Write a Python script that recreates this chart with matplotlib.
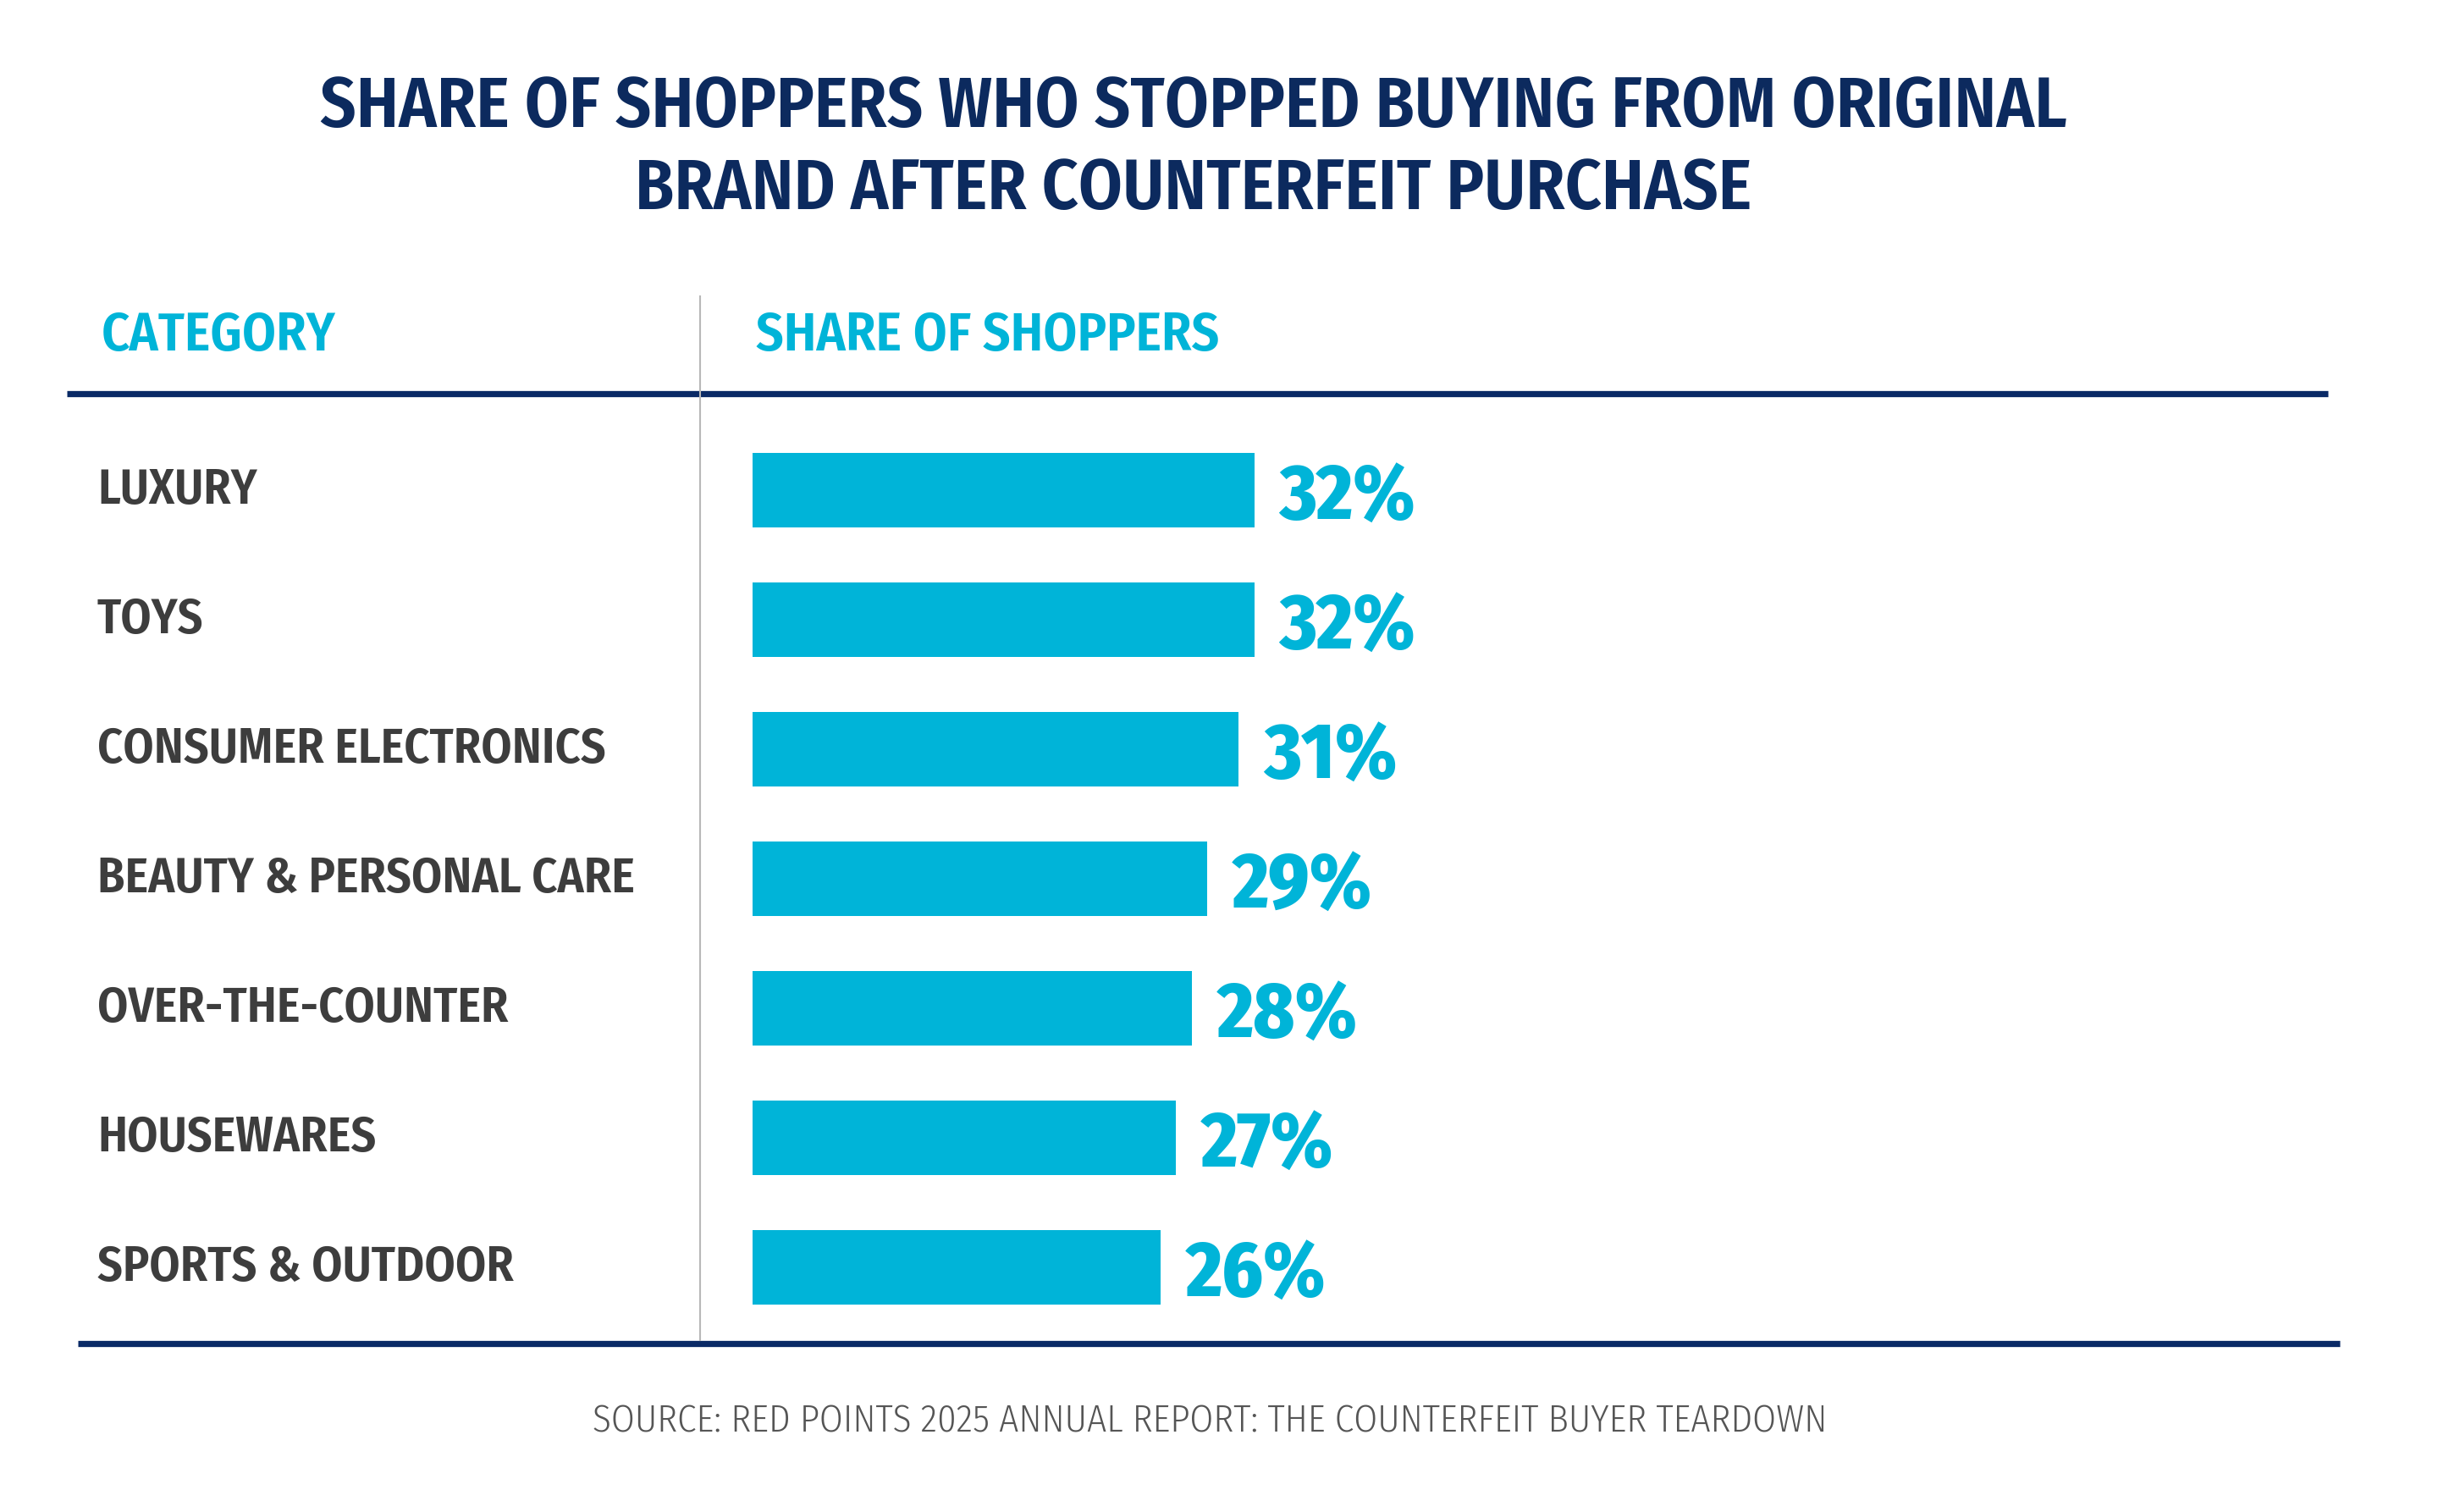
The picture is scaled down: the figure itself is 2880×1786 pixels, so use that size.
import matplotlib
matplotlib.use("Agg")
import matplotlib.pyplot as plt
from matplotlib.lines import Line2D
from matplotlib.transforms import blended_transform_factory

# dados
categories = ["LUXURY", "TOYS", "CONSUMER ELECTRONICS", "BEAUTY & PERSONAL CARE",
              "OVER-THE-COUNTER", "HOUSEWARES", "SPORTS & OUTDOOR"]
shares = [32, 32, 31, 29, 28, 27, 26]
title_lines = ["SHARE OF SHOPPERS WHO STOPPED BUYING FROM ORIGINAL",
               "BRAND AFTER COUNTERFEIT PURCHASE"]
header_left = "CATEGORY"
header_right = "SHARE OF SHOPPERS"
source = "SOURCE: RED POINTS 2025 ANNUAL REPORT: THE COUNTERFEIT BUYER TEARDOWN"

NAVY = "#0a2a66"
TITLE = "#0c2a5e"
CYAN = "#00b4d8"
DARK = "#3d3d3d"
GRAY = "#555555"

plt.rcParams["font.family"] = ["Fira Sans Condensed", "DejaVu Sans"]

W, H = 2880.0, 1786.0  # pixels da referencia
fig = plt.figure(figsize=(W / 150, H / 150), dpi=150)
renderer = fig.canvas.get_renderer()


def fx(x):
    return x / W


def fy(y):
    return 1 - y / H


def fit(t, target):
    # ajusta o tamanho da fonte para a largura medida na referencia
    w = t.get_window_extent(renderer).width
    t.set_fontsize(t.get_fontsize() * target / w)
    return t.get_fontsize()


# titulo
t1 = fig.text(fx(1410), fy(150), title_lines[0], ha="center", va="baseline",
              fontsize=50, fontweight=600, color=TITLE)
size = fit(t1, 2066)
fig.text(fx(1410), fy(247), title_lines[1], ha="center", va="baseline",
         fontsize=size, fontweight=600, color=TITLE)

# cabecalhos
h2 = fig.text(fx(893), fy(414), header_right, ha="left", va="baseline", fontsize=34,
              fontweight=600, color=CYAN)
hsize = fit(h2, 548)
fig.text(fx(120), fy(414), header_left, ha="left", va="baseline", fontsize=hsize,
         fontweight=600, color=CYAN)

# linhas
fig.add_artist(Line2D([fx(79), fx(2750)], [fy(465), fy(465)], color=NAVY, lw=3.5,
                      transform=fig.transFigure, solid_capstyle="butt"))
fig.add_artist(Line2D([fx(92), fx(2764)], [fy(1587), fy(1587)], color=NAVY, lw=3.5,
                      transform=fig.transFigure, solid_capstyle="butt"))
fig.add_artist(Line2D([fx(827), fx(827)], [fy(350), fy(1583)], color="#b8b8b8", lw=1.0,
                      transform=fig.transFigure))

# eixo das barras
row = 153.0
top = 579 - row / 2
bottom = 579 + 6 * row + row / 2
ax = fig.add_axes([fx(889), fy(bottom), 1852 / W, (bottom - top) / H])
ax.set_xlim(0, 100)
ax.set_ylim(len(categories) - 0.5, -0.5)
ax.axis("off")

ypos = list(range(len(categories)))
ax.barh(ypos, shares, height=88 / row, color=CYAN)

lab_tr = blended_transform_factory(fig.transFigure, ax.transData)
cat_texts = []
val_texts = []
for y, cat, v in zip(ypos, categories, shares):
    val_texts.append(ax.text(v + 30 / 18.52, y + 34 / row, f"{v}%", ha="left", va="baseline",
                             fontsize=48, fontweight=800, color=CYAN))
    cat_texts.append(ax.text(fx(115), y + 16 / row, cat, transform=lab_tr,
                             ha="left", va="baseline", fontsize=31, fontweight=600, color=DARK))

csize = fit(cat_texts[3], 635)
for t in cat_texts:
    t.set_fontsize(csize)
vsize = fit(val_texts[0], 161)
for t in val_texts:
    t.set_fontsize(vsize)

# fonte
s = fig.text(fx(1429), fy(1692), source, ha="center", va="baseline", fontsize=23,
             fontweight=300, color=GRAY)
fit(s, 1462)

plt.savefig("out.png", dpi=150)
